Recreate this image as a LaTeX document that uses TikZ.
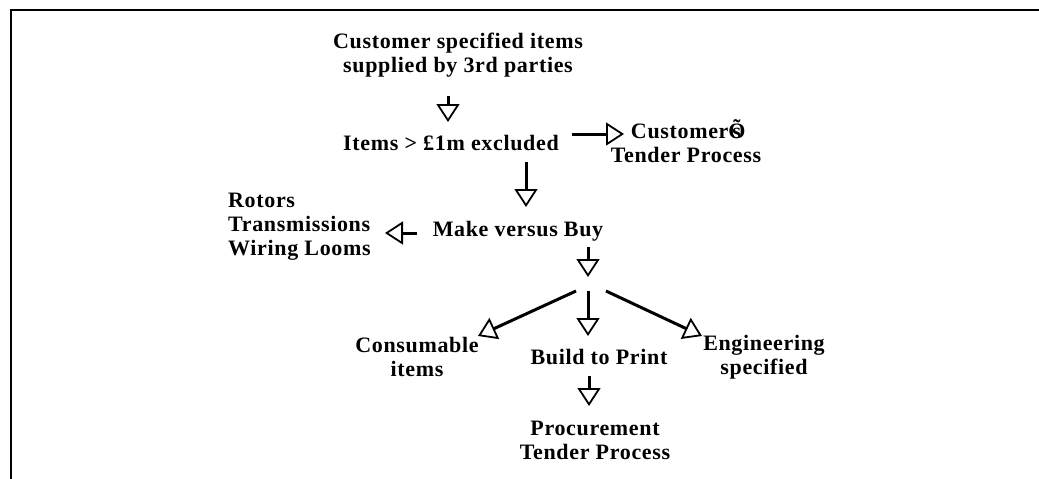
\documentclass[tikz,border=0pt]{standalone}
\usepackage{fontspec}
\setmainfont{Liberation Serif}[LetterSpace=3]
\usetikzlibrary{arrows.meta}

\begin{document}
\begin{tikzpicture}[x=1pt,y=-1pt,
  lbl/.style={font=\bfseries\fontsize{22}{24}\selectfont, inner sep=0pt, anchor=base, align=center},
  flow/.style={line width=3pt, -{Triangle[open,length=18pt,width=23pt,line width=1.8pt]}},
  frame/.style={line width=2pt}]
\useasboundingbox (0,0) rectangle (1039,479);

% open frame: top and left edges only
\draw[frame] (11,479) -- (11,10) -- (1039,10);

% labels (base anchor = baseline of the last line)
\node[lbl] (third)   at (458,72)  {Customer specified items\\supplied by 3rd parties};
\node[lbl] (excl)    at (451,150) {Items > £1m excluded};
\node[lbl] (custtp)  at (686,162) {Customer\rlap{Õ}\kern4pt s\\Tender Process};
\node[lbl] (mvb)     at (518,236) {Make versus Buy};
\node[lbl, anchor=base west, align=left] (rotors) at (228,255) {Rotors\\Transmissions\\Wiring Looms};
\node[lbl] (consum)  at (417,376) {Consumable\\items};
\node[lbl] (btp)     at (599,364) {Build to Print};
\node[lbl] (engspec) at (764,374) {Engineering\\specified};
\node[lbl] (proc)    at (595,459) {Procurement\\Tender Process};

% branching point below "Make versus Buy"
\coordinate (split) at (588,291);

% connectors
\draw[flow] ([shift={(-10,24)}]third.base) -- ([shift={(-3,-28)}]excl.base);
\draw[flow] ([shift={(121,-16)}]excl.base) -- ([shift={(-62,-28)}]custtp.base);
\draw[flow] ([shift={(75,12)}]excl.base) -- ([shift={(8,-29)}]mvb.base);
\draw[flow] ([shift={(-101,-3)}]mvb.base) -- ([shift={(157,-22)}]rotors.base west);
\draw[flow] ([shift={(70,11)}]mvb.base) -- ([shift={(0,-14)}]split);
\draw[flow] ([shift={(-12,0)}]split) -- ([shift={(61,-40)}]consum.base);
\draw[flow] (split) -- ([shift={(-11,-28)}]btp.base);
\draw[flow] ([shift={(18,0)}]split) -- ([shift={(-62,-38)}]engspec.base);
\draw[flow] ([shift={(-10,12)}]btp.base) -- ([shift={(-6,-53)}]proc.base);
\end{tikzpicture}
\end{document}
